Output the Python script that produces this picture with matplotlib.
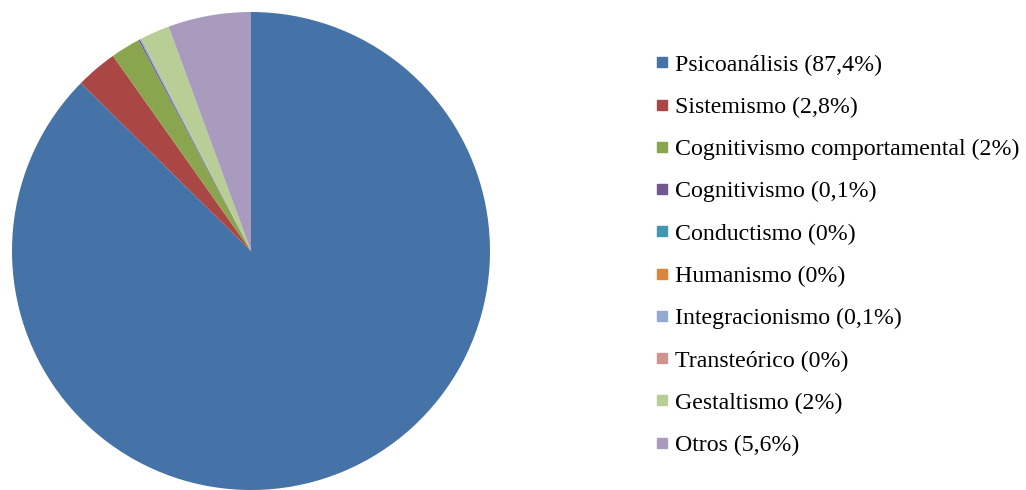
import matplotlib
matplotlib.use("Agg")
import matplotlib.pyplot as plt
from matplotlib.lines import Line2D

# Data
categories = ["Psicoanálisis", "Sistemismo", "Cognitivismo comportamental",
              "Cognitivismo", "Conductismo", "Humanismo", "Integracionismo",
              "Transteórico", "Gestaltismo", "Otros"]
shares = [87.4, 2.8, 2, 0.1, 0, 0, 0.1, 0, 2, 5.6]
share_labels = ["87,4%", "2,8%", "2%", "0,1%", "0%", "0%", "0,1%", "0%", "2%", "5,6%"]

colors = ["#4572A7", "#AA4643", "#89A54E", "#71588F", "#4198AF",
          "#DB843D", "#93A9CF", "#D19392", "#B9CD96", "#A99BBD"]

plt.rcParams['font.family'] = ['Liberation Serif', 'DejaVu Serif']

fig = plt.figure(figsize=(10.26, 4.9), dpi=100)
ax = fig.add_axes([12 / 1026, 0.0, 478 / 1026, 478 / 490])

ax.pie(shares, colors=colors, startangle=90, counterclock=False,
       radius=1, wedgeprops={'linewidth': 0})
ax.set_xlim(-1, 1)
ax.set_ylim(-1, 1)
ax.set_aspect('equal')
ax.axis('off')

# Legend with small square markers
handles = [Line2D([], [], marker='s', linestyle='none', markersize=7,
                  markerfacecolor=c, markeredgecolor=c) for c in colors]
labels = [f"{name} ({lab})" for name, lab in zip(categories, share_labels)]
fig.legend(handles, labels, loc='upper left',
           bbox_to_anchor=(645 / 1026, 1 - 42 / 490),
           frameon=False, fontsize=17.2, handlelength=0.45,
           handletextpad=0.3, labelspacing=0.86, borderpad=0)

fig.savefig("out.png", dpi=100)
